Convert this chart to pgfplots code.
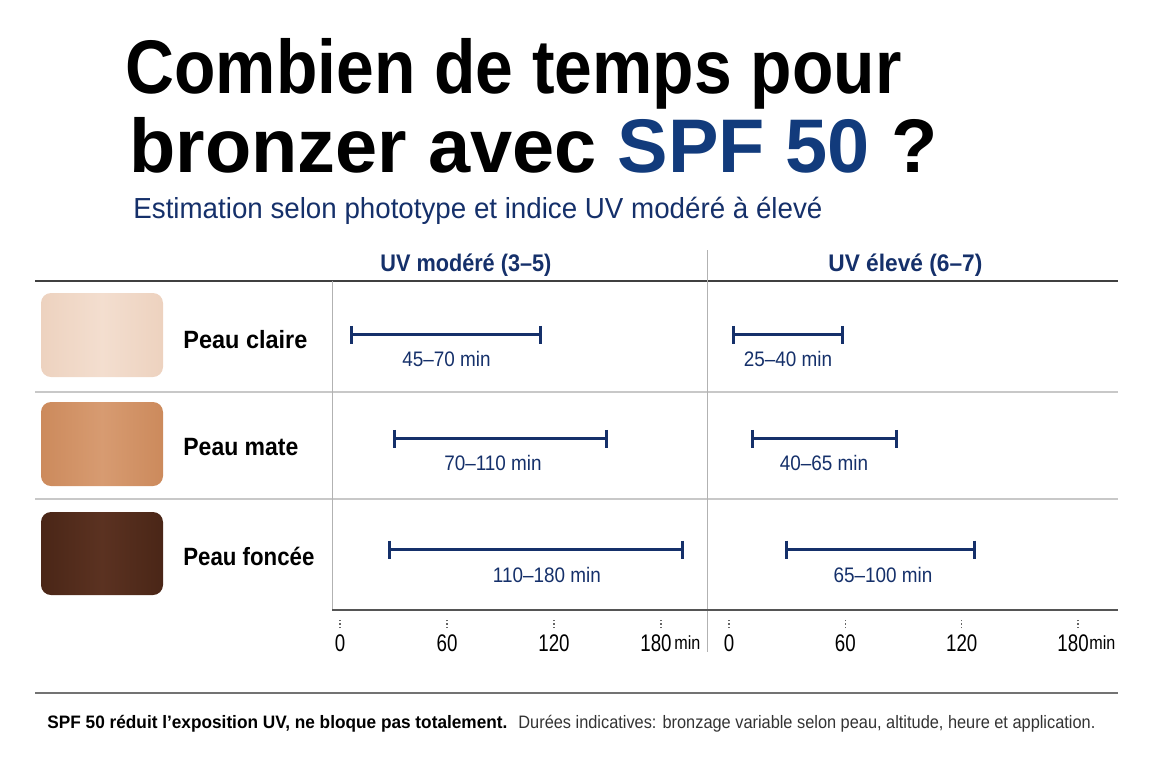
\documentclass[border=0pt]{standalone}
\usepackage{fontspec}
\setmainfont{Liberation Sans}
\usepackage{graphicx}
\usepackage{pgfplots}
\pgfplotsset{compat=1.18}

\definecolor{navy}{HTML}{15306A}
\definecolor{spfblue}{HTML}{123B7C}
\definecolor{axisgray}{HTML}{555555}
\definecolor{rowgray}{HTML}{C8C8C8}
\definecolor{skinA}{HTML}{EDD2BF}
\definecolor{skinAm}{HTML}{F3DECF}
\definecolor{skinB}{HTML}{CC8A5C}
\definecolor{skinBm}{HTML}{D79B71}
\definecolor{skinC}{HTML}{4A2617}
\definecolor{skinCm}{HTML}{5B3221}

% scale text horizontally to a given width, keep its height
\newcommand\fitw[2]{\resizebox{#1}{\height}{#2}}
\newcommand\tkl[1]{\scalebox{0.78}[1]{#1}}

\tikzset{rlabel/.style={font=\fontsize{10.5}{10.5}\selectfont, text=navy, anchor=base, inner sep=0pt}}

\pgfplotsset{
  panel/.style={
    anchor=south west, scale only axis,
    height=164.5pt,
    ymin=0, ymax=3,
    axis x line=bottom, axis y line=none,
    x axis line style={-, draw=axisgray, line width=1pt},
    xtick={0,60,120,180},
    xticklabels={\tkl{0},\tkl{60},\tkl{120},\tkl{180}\hspace*{5pt}},
    tick align=outside, major tick length=9pt,
    % tick is drawn from its outer end: three small dots, then a gap up to the axis
    xtick style={draw=black!60, line width=0.75pt,
      dash pattern=on 0.75pt off 0.9pt on 0.75pt off 0.9pt on 0.75pt off 20pt},
    xticklabel style={font=\fontsize{12}{12}\selectfont, text=black, inner sep=0pt, yshift=-3pt},
    clip=false,
  },
  range/.style={navy, line width=1.5pt, mark=|, mark size=4.5pt,
    mark options={solid, line width=1.5pt}},
}

\begin{document}
\begin{tikzpicture}
\begin{scope}[x=0.5pt,y=-0.5pt]
  % title
  \node[anchor=base west, inner sep=0] at (125,93)
    {\fontsize{38}{40}\selectfont\bfseries\fitw{388pt}{Combien de temps pour}};
  \node[anchor=base west, inner sep=0] at (129,172)
    {\fontsize{38}{40}\selectfont\bfseries\fitw{404pt}{bronzer avec \textcolor{spfblue}{SPF 50} ?}};
  \node[anchor=base west, inner sep=0, text=navy] at (133,218)
    {\fontsize{14.5}{14.5}\selectfont\fitw{344.5pt}{Estimation selon phototype et indice UV modéré à élevé}};

  % column headers
  \node[anchor=base west, inner sep=0, text=navy] at (380,271)
    {\fontsize{12}{12}\selectfont\bfseries\fitw{85.5pt}{UV modéré (3–5)}};
  \node[anchor=base west, inner sep=0, text=navy] at (828,271)
    {\fontsize{12}{12}\selectfont\bfseries\fitw{77pt}{UV élevé (6–7)}};

  % table lines
  \draw[draw=black!75, line width=0.75pt] (35,281) -- (1118,281);
  \draw[draw=rowgray, line width=0.75pt] (35,392) -- (1118,392);
  \draw[draw=rowgray, line width=0.75pt] (35,499) -- (1118,499);
  \draw[draw=black!30, line width=0.5pt] (332,281) -- (332,610);
  \draw[draw=black!30, line width=0.5pt] (707,250) -- (707,652);

  % skin swatches
  \shade[left color=skinA, right color=skinA, middle color=skinAm, rounded corners=5pt]
    (41,293) rectangle (163,377);
  \shade[left color=skinB, right color=skinB, middle color=skinBm, rounded corners=5pt]
    (41,402) rectangle (163,486);
  \shade[left color=skinC, right color=skinC, middle color=skinCm, rounded corners=5pt]
    (41,512) rectangle (163,595);

  \node[anchor=base west, inner sep=0] at (183,348)
    {\fontsize{12.5}{12.5}\selectfont\bfseries\fitw{62pt}{Peau claire}};
  \node[anchor=base west, inner sep=0] at (183,455)
    {\fontsize{12.5}{12.5}\selectfont\bfseries\fitw{57.5pt}{Peau mate}};
  \node[anchor=base west, inner sep=0] at (183,565)
    {\fontsize{12.5}{12.5}\selectfont\bfseries\fitw{65.5pt}{Peau foncée}};

  % unit after the last tick
  \node[anchor=base west, inner sep=0] at (674,649)
    {\fontsize{9.5}{9.5}\selectfont\scalebox{0.85}[1]{min}};
  \node[anchor=base west, inner sep=0] at (1089,649)
    {\fontsize{9.5}{9.5}\selectfont\scalebox{0.85}[1]{min}};

  % footer
  \draw[draw=black!55, line width=1pt] (35,693) -- (1118,693);
  \node[anchor=base west, inner sep=0] at (47,728)
    {\fontsize{9}{9}\selectfont\bfseries\fitw{230pt}{SPF 50 réduit l’exposition UV, ne bloque pas totalement.}};
  \node[anchor=base west, inner sep=0, text=black!80] at (518,728)
    {\fontsize{9}{9}\selectfont\fitw{288.5pt}{Durées indicatives: bronzage variable selon peau, altitude, heure et application.}};
\end{scope}

% UV modéré (3-5)
\begin{axis}[panel, at={(166pt,-305pt)}, width=187.5pt, xmin=-4.49, xmax=205.8]
  \addplot[range] coordinates {(6.7,2.51) (112.7,2.51)};
  \addplot[range] coordinates {(30.8,1.56) (149.2,1.56)};
  \addplot[range] coordinates {(27.5,0.55) (191.8,0.55)};
  \node[rlabel] at (axis cs:59.7,2.22) {\scalebox{0.9}[1]{45–70 min}};
  \node[rlabel] at (axis cs:85.8,1.27) {\scalebox{0.9}[1]{70–110 min}};
  \node[rlabel] at (axis cs:116.0,0.25) {\scalebox{0.9}[1]{110–180 min}};
\end{axis}

% UV élevé (6-7)
\begin{axis}[panel, at={(353.5pt,-305pt)}, width=205.5pt, xmin=-11.35, xmax=200.6]
  \addplot[range] coordinates {(2.1,2.51) (58.3,2.51)};
  \addplot[range] coordinates {(11.9,1.56) (86.6,1.56)};
  \addplot[range] coordinates {(29.9,0.55) (126.4,0.55)};
  \node[rlabel] at (axis cs:30.4,2.22) {\scalebox{0.9}[1]{25–40 min}};
  \node[rlabel] at (axis cs:49.0,1.27) {\scalebox{0.9}[1]{40–65 min}};
  \node[rlabel] at (axis cs:79.4,0.25) {\scalebox{0.9}[1]{65–100 min}};
\end{axis}

\pgfresetboundingbox
\useasboundingbox (0pt,0pt) rectangle (576pt,-384pt);
\end{tikzpicture}
\end{document}
